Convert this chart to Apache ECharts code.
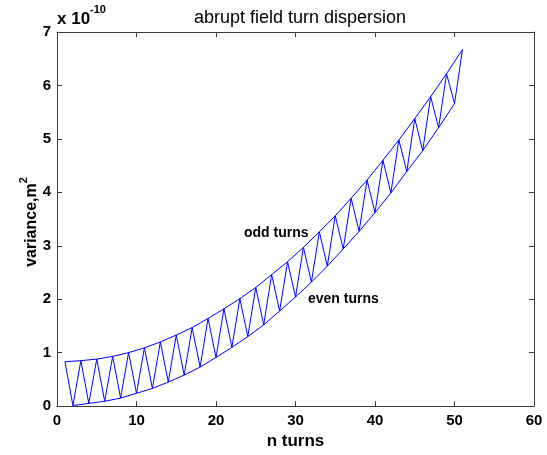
<!DOCTYPE html>
<html>
<head>
<meta charset="utf-8">
<script src="https://cdn.jsdelivr.net/npm/echarts@6/dist/echarts.min.js"></script>
<style>
html,body{margin:0;padding:0;background:#fff;}
#chart{width:547px;height:455px;}
</style>
</head>
<body>
<div id="chart"></div>
<script>
// Data (variance in units of 1e-10 m^2)
const nOdd = [1,3,5,7,9,11,13,15,17,19,21,23,25,27,29,31,33,35,37,39,41,43,45,47,49,51];
const oddTurns = [0.83,0.85,0.88,0.93,1.00,1.09,1.20,1.33,1.47,1.64,1.82,2.01,2.22,2.46,2.70,2.97,3.26,3.56,3.89,4.23,4.60,4.98,5.38,5.79,6.22,6.67];
const nEven = [2,4,6,8,10,12,14,16,18,20,22,24,26,28,30,32,34,36,38,40,42,44,46,48,50];
const evenTurns = [0.01,0.05,0.09,0.15,0.24,0.33,0.45,0.58,0.73,0.91,1.10,1.30,1.52,1.78,2.04,2.32,2.62,2.94,3.27,3.62,3.99,4.39,4.78,5.21,5.66];
const xTicks = [0,10,20,30,40,50,60];
const yTicks = [0,1,2,3,4,5,6,7];

const zigzag = [];
for (let i = 0; i < nOdd.length; i++) {
  zigzag.push([nOdd[i], oddTurns[i]]);
  if (i < nEven.length) zigzag.push([nEven[i], evenTurns[i]]);
}
const oddLine = nOdd.map((n, i) => [n, oddTurns[i]]);
const evenLine = nEven.map((n, i) => [n, evenTurns[i]]);

const FONT = "'Liberation Sans', Arial, Helvetica, sans-serif";
const axisColor = '#3c3c3c';
const lineColor = '#0000ff';

const chart = echarts.init(document.getElementById('chart'), null, {renderer: 'canvas'});
const baseAxis = {
  axisLine: {show: true, onZero: false, lineStyle: {color: axisColor, width: 1}},
  axisTick: {show: true, inside: true, length: 5, lineStyle: {color: axisColor}},
  splitLine: {show: false}
};
chart.setOption({
  animation: false,
  backgroundColor: '#fff',
  title: {
    text: 'abrupt field turn dispersion',
    left: 295, top: 4, textAlign: 'center',
    textStyle: {fontFamily: FONT, fontSize: 18, fontWeight: 'normal', color: '#000'}
  },
  grid: {left: 57, right: 13, top: 32, bottom: 47, containLabel: false},
  xAxis: [
    Object.assign({}, baseAxis, {
      type: 'value', min: xTicks[0], max: xTicks[xTicks.length - 1], interval: 10,
      position: 'bottom',
      name: 'n turns', nameLocation: 'middle', nameGap: 21,
      nameTextStyle: {fontFamily: FONT, fontSize: 17, fontWeight: 'bold', color: '#000'},
      axisLabel: {fontFamily: FONT, fontSize: 15, fontWeight: 'bold', color: '#000', margin: 7}
    }),
    Object.assign({}, baseAxis, {
      type: 'value', min: xTicks[0], max: xTicks[xTicks.length - 1], interval: 10,
      position: 'top', axisLabel: {show: false}
    })
  ],
  yAxis: [
    Object.assign({}, baseAxis, {
      type: 'value', min: yTicks[0], max: yTicks[yTicks.length - 1], interval: 1,
      position: 'left',
      axisLabel: {fontFamily: FONT, fontSize: 15, fontWeight: 'bold', color: '#000', margin: 6}
    }),
    Object.assign({}, baseAxis, {
      type: 'value', min: yTicks[0], max: yTicks[yTicks.length - 1], interval: 1,
      position: 'right', axisLabel: {show: false}
    })
  ],
  graphic: [
    {
      type: 'text', x: 29, y: 222, rotation: Math.PI / 2,
      style: {
        text: '{b|variance,m}{s|2}',
        align: 'center', verticalAlign: 'middle',
        rich: {
          b: {fontFamily: FONT, fontSize: 16, fontWeight: 'bold', fill: '#000', verticalAlign: 'bottom', lineHeight: 22},
          s: {fontFamily: FONT, fontSize: 11, fontWeight: 'bold', fill: '#000', verticalAlign: 'top', lineHeight: 22}
        }
      }
    },
    {
      type: 'text', left: 57, top: 4,
      style: {
        text: '{b|x 10}{s|-10}',
        rich: {
          b: {fontFamily: FONT, fontSize: 17, fontWeight: 'bold', fill: '#000', verticalAlign: 'bottom', lineHeight: 24},
          s: {fontFamily: FONT, fontSize: 11, fontWeight: 'bold', fill: '#000', verticalAlign: 'top', lineHeight: 24}
        }
      }
    },
    {
      type: 'text', left: 244, top: 226,
      style: {text: 'odd turns', font: 'bold 14px ' + FONT, fill: '#000'}
    },
    {
      type: 'text', left: 308, top: 292,
      style: {text: 'even turns', font: 'bold 14px ' + FONT, fill: '#000'}
    }
  ],
  series: [
    {type: 'line', data: zigzag, showSymbol: false, symbol: 'none', lineStyle: {color: lineColor, width: 1}, xAxisIndex: 0, yAxisIndex: 0},
    {type: 'line', data: oddLine, showSymbol: false, symbol: 'none', lineStyle: {color: lineColor, width: 1}, xAxisIndex: 0, yAxisIndex: 0},
    {type: 'line', data: evenLine, showSymbol: false, symbol: 'none', lineStyle: {color: lineColor, width: 1}, xAxisIndex: 0, yAxisIndex: 0}
  ]
});
</script>
</body>
</html>
